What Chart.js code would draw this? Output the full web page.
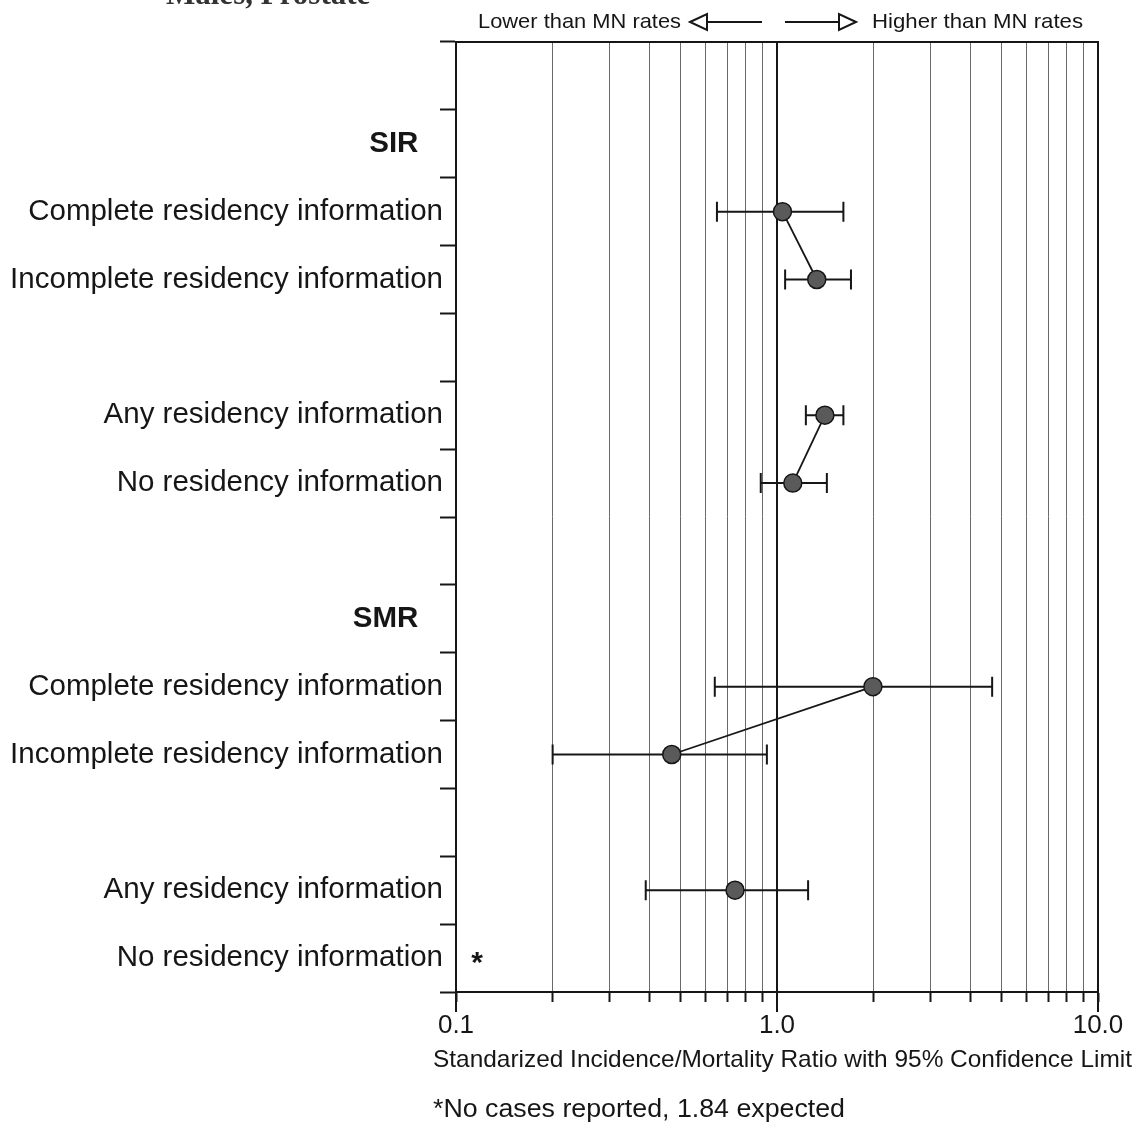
<!DOCTYPE html>
<html lang="en">
<head>
<meta charset="UTF-8" />
<title>Males, Prostate</title>
<script src="https://cdn.jsdelivr.net/npm/chart.js"></script>
<style>
  html, body { margin: 0; padding: 0; background: #fff; }
  #wrap { width: 1138px; height: 1130px; position: relative; }
</style>
</head>
<body>
<div id="wrap"><canvas id="chart"></canvas></div>
<script>
  // rows from top to bottom, '' = spacer row
  const rowLabels = [
    '', 'SIR',
    'Complete residency information', 'Incomplete residency information', '',
    'Any residency information', 'No residency information', '',
    'SMR',
    'Complete residency information', 'Incomplete residency information', '',
    'Any residency information', 'No residency information'
  ];
  const headerRows = ['SIR', 'SMR'];

  // ratio and 95% limits per row (null = nothing drawn)
  const ratio = [null, null, 1.04, 1.33, null, 1.41, 1.12, null, null, 1.99, 0.47, null, 0.74, null];
  const lower = [null, null, 0.65, 1.06, null, 1.23, 0.89, null, null, 0.64, 0.20, null, 0.39, null];
  const upper = [null, null, 1.61, 1.70, null, 1.61, 1.43, null, null, 4.68, 0.93, null, 1.25, null];

  // rows joined by a line
  const groups = [[2, 3], [5, 6], [9, 10], [12]];
  const noCaseRows = [13];

  const xTicks = [0.1, 0.2, 0.3, 0.4, 0.5, 0.6, 0.7, 0.8, 0.9, 1, 2, 3, 4, 5, 6, 7, 8, 9, 10];
  const majorTicks = [0.1, 1, 10];
  const majorLabels = ['0.1', '1.0', '10.0'];

  const axisTitle = 'Standarized Incidence/Mortality Ratio with 95% Confidence Limit';
  const footnote = '*No cases reported, 1.84 expected';
  const lowerText = 'Lower than MN rates';
  const higherText = 'Higher than MN rates';
  const chartTitle = 'Males, Prostate';

  const INK = '#161616';
  const FONT = "'Liberation Sans', Arial, sans-serif";

  // draw text squeezed to a given width
  function fitText(ctx, text, x, y, width, size, align) {
    ctx.save();
    ctx.font = size + 'px ' + FONT;
    const w = ctx.measureText(text).width;
    const k = width / w;
    ctx.translate(x, y);
    ctx.scale(k, 1);
    ctx.textAlign = align;
    ctx.textBaseline = 'middle';
    ctx.fillText(text, 0, 0);
    ctx.restore();
  }

  function arrow(ctx, x0, x1, y, dir) {
    const head = 17;
    const tip = dir < 0 ? x0 : x1;
    const base = tip - dir * head;
    ctx.beginPath();
    if (dir < 0) { ctx.moveTo(base, y); ctx.lineTo(x1, y); }
    else { ctx.moveTo(x0, y); ctx.lineTo(base, y); }
    ctx.stroke();
    ctx.beginPath();
    ctx.moveTo(tip, y);
    ctx.lineTo(base, y - 8);
    ctx.lineTo(base, y + 8);
    ctx.closePath();
    ctx.fillStyle = '#fff';
    ctx.fill();
    ctx.stroke();
  }

  const errorBars = {
    id: 'errorBars',
    beforeDatasetsDraw(chart) {
      const { ctx, scales: { x, y } } = chart;
      ctx.save();
      ctx.strokeStyle = INK;
      ctx.lineWidth = 2;
      ratio.forEach((r, i) => {
        if (r === null) return;
        const py = y.getPixelForValue(i);
        const xl = x.getPixelForValue(lower[i]);
        const xh = x.getPixelForValue(upper[i]);
        ctx.beginPath();
        ctx.moveTo(xl, py); ctx.lineTo(xh, py);
        ctx.moveTo(xl, py - 10); ctx.lineTo(xl, py + 10);
        ctx.moveTo(xh, py - 10); ctx.lineTo(xh, py + 10);
        ctx.stroke();
      });
      ctx.restore();
    }
  };

  const decorations = {
    id: 'decorations',
    afterDraw(chart) {
      const { ctx, chartArea: a, scales: { x, y } } = chart;
      ctx.save();
      // frame
      ctx.strokeStyle = INK;
      ctx.lineWidth = 2;
      ctx.strokeRect(a.left, a.top, a.right - a.left, a.bottom - a.top);
      // longer ticks at decades
      ctx.beginPath();
      majorTicks.forEach(v => {
        const px = x.getPixelForValue(v);
        ctx.moveTo(px, a.bottom);
        ctx.lineTo(px, a.bottom + 20);
      });
      ctx.stroke();

      ctx.fillStyle = INK;
      // no-case marker
      ctx.font = 'bold 30px ' + FONT;
      ctx.textAlign = 'center';
      ctx.textBaseline = 'middle';
      noCaseRows.forEach(r => {
        ctx.fillText('*', a.left + 21, y.getPixelForValue(r) + 6);
      });

      // header arrows
      fitText(ctx, lowerText, 681, 22, 203, 21, 'right');
      fitText(ctx, higherText, 872, 22, 211, 21, 'left');
      ctx.strokeStyle = INK;
      ctx.lineWidth = 2;
      arrow(ctx, 690, 762, 22, -1);
      arrow(ctx, 785, 856, 22, 1);

      // axis title and footnote
      ctx.fillStyle = INK;
      fitText(ctx, axisTitle, 433, 1060, 699, 24, 'left');
      fitText(ctx, footnote, 433, 1110, 412, 26, 'left');

      // cut-off page title
      ctx.font = "bold 31px 'Liberation Serif', serif";
      ctx.textAlign = 'left';
      ctx.textBaseline = 'alphabetic';
      ctx.fillStyle = '#333';
      ctx.fillText(chartTitle, 166, 4);
      ctx.restore();
    }
  };

  // pre-parsed points: y is the row index on the category axis
  const datasets = groups.map(rows => ({
    type: 'line',
    parsing: false,
    data: rows.map(r => ({ x: ratio[r], y: r })),
    borderColor: INK,
    borderWidth: 1.8,
    pointRadius: 9,
    pointBackgroundColor: '#5a5a5a',
    pointBorderColor: INK,
    pointBorderWidth: 1.5,
    fill: false,
    tension: 0
  }));

  new Chart(document.getElementById('chart'), {
    type: 'line',
    data: { labels: rowLabels, datasets },
    options: {
      responsive: true,
      maintainAspectRatio: false,
      animation: false,
      layout: { padding: { left: 0, top: 42, right: 40, bottom: 0 } },
      plugins: { legend: { display: false }, tooltip: { enabled: false } },
      scales: {
        x: {
          type: 'logarithmic',
          min: 0.1,
          max: 10,
          afterBuildTicks: scale => { scale.ticks = xTicks.map(v => ({ value: v })); },
          afterFit: scale => { scale.height = 138; },
          border: { color: INK, width: 2 },
          grid: {
            color: ctx => (ctx.tick && ctx.tick.value === 1 ? INK : '#6a6a6a'),
            lineWidth: ctx => (ctx.tick && ctx.tick.value === 1 ? 2 : 1),
            tickColor: INK,
            tickWidth: 2,
            tickLength: 10
          },
          ticks: {
            autoSkip: false,
            maxRotation: 0,
            padding: 8,
            color: INK,
            font: { family: FONT, size: 26 },
            callback: v => {
              const k = majorTicks.indexOf(v);
              return k >= 0 ? majorLabels[k] : '';
            }
          }
        },
        y: {
          type: 'category',
          offset: true,
          afterFit: scale => { scale.width = 456; },
          border: { color: INK, width: 2 },
          grid: {
            offset: true,
            drawOnChartArea: false,
            tickColor: INK,
            tickWidth: 2,
            tickLength: 16
          },
          ticks: {
            autoSkip: false,
            padding: -3,
            color: INK,
            font: ctx => ({
              family: FONT,
              size: 29.5,
              weight: headerRows.includes(rowLabels[ctx.index]) ? 'bold' : 'normal'
            }),
            callback: (v, i) => headerRows.includes(rowLabels[i]) ? rowLabels[i] + '   ' : rowLabels[i]
          }
        }
      }
    },
    plugins: [errorBars, decorations]
  });
</script>
</body>
</html>
